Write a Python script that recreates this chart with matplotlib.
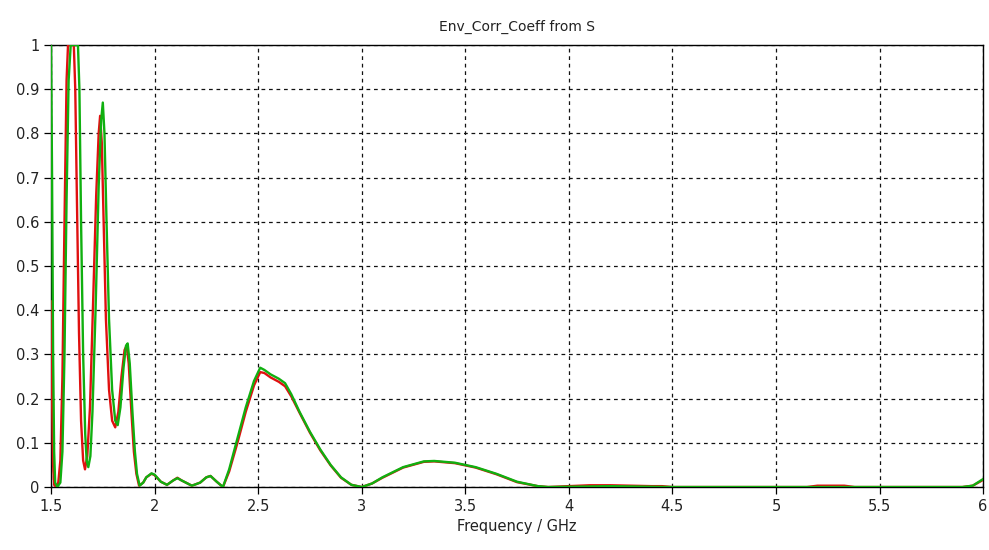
#Env_Corr_Coeff from S

#import the libraries
import numpy as np
import matplotlib
matplotlib.use("Agg")
import matplotlib.pyplot as plt
from matplotlib.ticker import FuncFormatter

#data (frequency in GHz, coefficient)
green_f = [1.500, 1.505, 1.510, 1.515, 1.520, 1.530, 1.545, 1.555, 1.565, 1.575,
           1.585, 1.595, 1.630, 1.637, 1.645, 1.655, 1.665, 1.672, 1.680, 1.690,
           1.700, 1.715, 1.730, 1.742, 1.750, 1.758, 1.768, 1.780, 1.795, 1.810,
           1.822, 1.835, 1.850, 1.862, 1.870, 1.880, 1.893, 1.905, 1.915, 1.928,
           1.945, 1.960, 1.985, 2.000, 2.030, 2.060, 2.090, 2.110, 2.130, 2.180,
           2.220, 2.250, 2.270, 2.300, 2.330, 2.360, 2.400, 2.440, 2.480, 2.510,
           2.530, 2.560, 2.600, 2.630, 2.660, 2.700, 2.750, 2.800, 2.850, 2.900,
           2.950, 3.000, 3.050, 3.100, 3.200, 3.300, 3.350, 3.450, 3.550, 3.650,
           3.750, 3.850, 3.900, 4.200, 4.500, 5.000, 5.900, 5.950, 6.000]
green_v = [1.00, 0.70, 0.30, 0.08, 0.01, 0.00, 0.01, 0.08, 0.30, 0.65,
           0.92, 1.00, 1.00, 0.90, 0.60, 0.30, 0.12, 0.06, 0.045, 0.07,
           0.17, 0.40, 0.68, 0.83, 0.87, 0.80, 0.60, 0.38, 0.22, 0.15,
           0.14, 0.18, 0.27, 0.32, 0.325, 0.28, 0.17, 0.08, 0.03, 0.003,
           0.010, 0.022, 0.031, 0.028, 0.012, 0.005, 0.015, 0.020, 0.015, 0.003,
           0.010, 0.022, 0.025, 0.012, 0.000, 0.040, 0.110, 0.180, 0.240, 0.270,
           0.265, 0.255, 0.245, 0.235, 0.210, 0.170, 0.125, 0.085, 0.050, 0.022,
           0.005, 0.000, 0.008, 0.022, 0.045, 0.058, 0.059, 0.055, 0.045, 0.030,
           0.012, 0.002, 0.000, 0.002, 0.000, 0.000, 0.000, 0.003, 0.018]

red_f = [1.500, 1.505, 1.510, 1.515, 1.525, 1.535, 1.545, 1.555, 1.565, 1.575,
         1.582, 1.610, 1.617, 1.625, 1.635, 1.645, 1.655, 1.664, 1.675, 1.688,
         1.702, 1.718, 1.730, 1.737, 1.745, 1.755, 1.765, 1.780, 1.795, 1.810,
         1.825, 1.840, 1.855, 1.865, 1.875, 1.888, 1.900, 1.912, 1.925,
         1.945, 1.960, 1.985, 2.000, 2.030, 2.060, 2.090, 2.110, 2.130, 2.180,
         2.220, 2.250, 2.270, 2.300, 2.330, 2.360, 2.400, 2.440, 2.480, 2.510,
         2.530, 2.560, 2.600, 2.630, 2.660, 2.700, 2.750, 2.800, 2.850, 2.900,
         2.950, 3.000, 3.050, 3.100, 3.200, 3.300, 3.350, 3.450, 3.550, 3.650,
         3.750, 3.850, 3.900, 4.100, 4.200, 4.300, 4.400, 4.450, 4.500, 5.150,
         5.200, 5.330, 5.380, 5.900, 5.950, 6.000]
red_v = [0.42, 0.20, 0.05, 0.005, 0.00, 0.01, 0.06, 0.25, 0.60, 0.92,
         1.00, 1.00, 0.90, 0.65, 0.35, 0.15, 0.06, 0.04, 0.07, 0.18,
         0.40, 0.66, 0.80, 0.84, 0.78, 0.58, 0.38, 0.22, 0.15, 0.135,
         0.17, 0.25, 0.31, 0.32, 0.28, 0.17, 0.08, 0.03, 0.003,
         0.010, 0.022, 0.030, 0.027, 0.012, 0.005, 0.015, 0.021, 0.015, 0.003,
         0.010, 0.022, 0.025, 0.012, 0.000, 0.035, 0.100, 0.170, 0.230, 0.260,
         0.258, 0.248, 0.238, 0.228, 0.205, 0.168, 0.123, 0.083, 0.049, 0.021,
         0.005, 0.000, 0.008, 0.021, 0.044, 0.057, 0.058, 0.054, 0.044, 0.029,
         0.011, 0.002, 0.000, 0.004, 0.004, 0.003, 0.002, 0.002, 0.000, 0.000,
         0.003, 0.003, 0.000, 0.000, 0.003, 0.016]

x_ticks = [1.5, 2, 2.5, 3, 3.5, 4, 4.5, 5, 5.5, 6]
y_ticks = [0, 0.1, 0.2, 0.3, 0.4, 0.5, 0.6, 0.7, 0.8, 0.9, 1]

#draw
plt.rcParams["font.family"] = ["DejaVu Sans"]
fig = plt.figure(figsize=(9.89, 5.5), dpi=100)
ax = fig.add_axes([0.0516, 0.1145, 0.9424, 0.8035])

ax.plot(red_f, red_v, color="#e01010", lw=1.7, zorder=3)
ax.plot(green_f, green_v, color="#10b010", lw=1.7, zorder=4)

ax.set_xlim(1.5, 6)
ax.set_ylim(0, 1)
ax.set_xticks(x_ticks)
ax.set_yticks(y_ticks)
ax.xaxis.set_major_formatter(FuncFormatter(lambda v, p: "%g" % v))
ax.yaxis.set_major_formatter(FuncFormatter(lambda v, p: "%g" % v))
ax.tick_params(labelsize=10.5, length=5, width=0.9, color="black", labelcolor="#222222")
ax.grid(True, color="#111111", linestyle=(0, (3, 3)), lw=0.9)

for s in ax.spines.values():
    s.set_color("black")
    s.set_linewidth(1.0)

ax.set_title("Env_Corr_Coeff from S", fontsize=10, color="#222222", pad=10)
ax.set_xlabel("Frequency / GHz", fontsize=10.5, color="#222222", labelpad=4)

fig.savefig("out.png", dpi=100)
